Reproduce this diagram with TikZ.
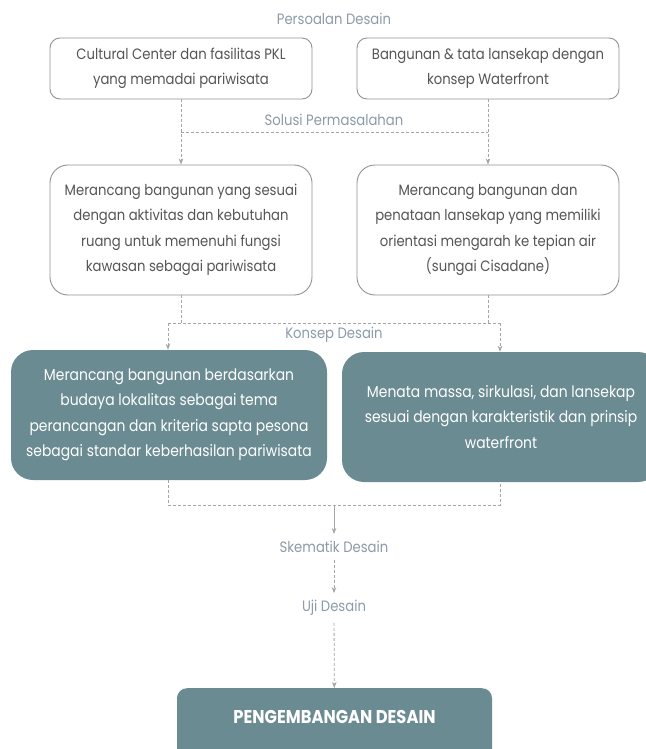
\documentclass[tikz,border=0pt]{standalone}
\usepackage{fontspec}
\setmainfont[FakeStretch=0.88]{Poppins}
\usetikzlibrary{arrows.meta}

\definecolor{slate}{RGB}{107,139,147}
\definecolor{labelgrey}{RGB}{140,155,168}
\definecolor{edgegrey}{RGB}{140,148,152}
\definecolor{linegrey}{RGB}{165,165,165}
\definecolor{bodygrey}{RGB}{85,85,85}

\tikzset{
  plainbox/.style={draw=edgegrey, line width=0.9pt, fill=white, text=bodygrey,
    align=center, minimum width=262pt, font=\fontsize{15}{25.5}\selectfont},
  darkbox/.style={fill=slate, text=white, align=center,
    font=\fontsize{15.8}{25.5}\selectfont},
  steplabel/.style={text=labelgrey, font=\fontsize{15}{18}\selectfont,
    inner xsep=2pt, inner ysep=7pt},
  dashline/.style={draw=linegrey, line width=0.8pt, dash pattern=on 3pt off 2pt},
  solidline/.style={draw=linegrey, line width=0.8pt},
  tip/.style={-{Stealth[length=6pt,width=4.5pt]}}
}

\begin{document}
\begin{tikzpicture}[x=1pt,y=-1pt]
    \fill[white] (0,0) rectangle (645,749);
    \useasboundingbox (0,0) rectangle (645,749);

    \node[steplabel] (persoalan) at (334,19) {Persoalan Desain};
    \node[plainbox, minimum height=61pt, rounded corners=10pt] (a1) at (181,68.5)
        {Cultural Center dan fasilitas PKL\\yang memadai pariwisata};
    \node[plainbox, minimum height=61pt, rounded corners=10pt] (a2) at (488,68.5)
        {Bangunan \& tata lansekap dengan\\konsep Waterfront};

    \node[steplabel] (solusi) at (334,120) {Solusi Permasalahan};
    \node[plainbox, minimum height=130pt, rounded corners=18pt] (b1) at (181,230)
        {Merancang bangunan yang sesuai\\dengan aktivitas dan kebutuhan\\ruang untuk memenuhi fungsi\\kawasan sebagai pariwisata};
    \node[plainbox, minimum height=130pt, rounded corners=18pt] (b2) at (488,230)
        {Merancang bangunan dan\\penataan lansekap yang memiliki\\orientasi mengarah ke tepian air\\(sungai Cisadane)};
    \coordinate (s1) at (181,132);
    \coordinate (s2) at (488,132);
    \draw[dashline, tip] (a1) -- (b1);
    \draw[dashline, tip] (a2) -- (b2);
    \draw[dashline] (s1) -- (s2);

    \node[steplabel] (konsep) at (334,335) {Konsep Desain};
    \node[darkbox, minimum width=316pt, minimum height=130pt, rounded corners=22pt] (c1) at (169,415)
        {Merancang bangunan berdasarkan\\budaya lokalitas sebagai tema\\perancangan dan kriteria sapta pesona\\sebagai standar keberhasilan pariwisata};
    \node[darkbox, minimum width=318pt, minimum height=130pt, rounded corners=22pt] (c2) at (501,417)
        {Menata massa, sirkulasi, dan lansekap\\sesuai dengan karakteristik dan prinsip\\waterfront};
    \coordinate (k1) at (168,323);
    \coordinate (k2) at (500,323);
    \draw[dashline] (b1.south) -- (b1.south |- k1);
    \draw[dashline] (b2.south) -- (b2.south |- k2);
    \draw[dashline] (k1) -- (k2);
    \draw[dashline, tip] (k1) -- (k1 |- c1.north);
    \draw[dashline, tip] (k2) -- (k2 |- c2.north);

    \coordinate (m) at (334,505);
    \draw[dashline] (c1.south -| k1) |- (m) -| (c2.south -| k2);

    \node[steplabel] (skematik) at (334,547) {Skematik Desain};
    \node[steplabel] (uji) at (334,608) {Uji Desain};
    \node[fill=slate, minimum width=315pt, minimum height=80pt, rounded corners=10pt,
        anchor=north] (dev) at (334.5,688) {};
    \node[text=white, font=\fontsize{18.5}{20}\selectfont\bfseries] (devtext) at (334.5,717)
        {PENGEMBANGAN DESAIN};
    \draw[solidline, tip] (m) -- (skematik);
    \draw[dashline, tip] (skematik) -- (uji);
    \draw[dashline, tip] (uji) -- (dev);

\end{tikzpicture}
\end{document}
